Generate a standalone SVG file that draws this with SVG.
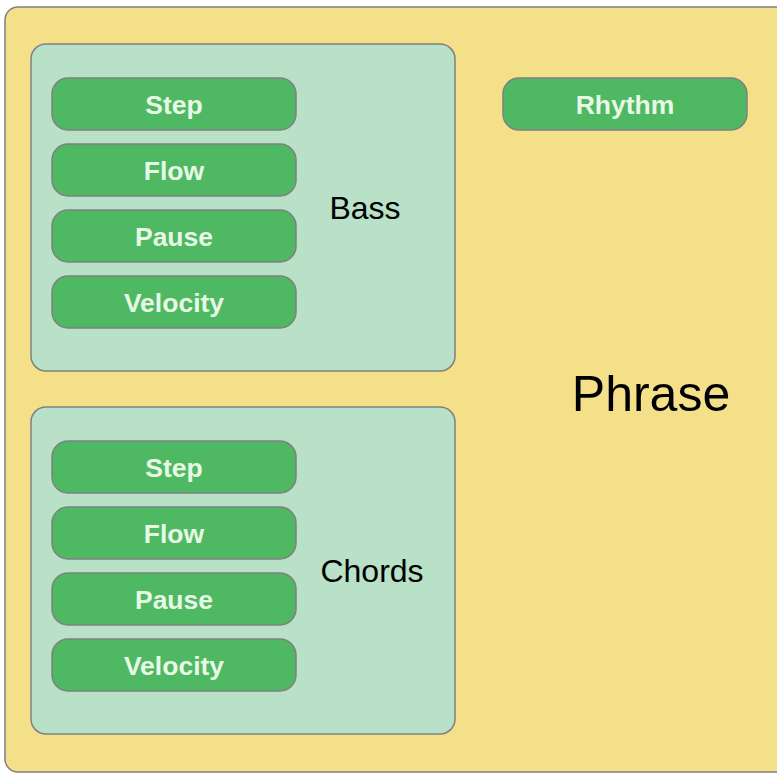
<svg xmlns="http://www.w3.org/2000/svg" width="777" height="774" viewBox="0 0 777 774">
<style>
.outer{fill:#f5e08a;stroke:#808080;stroke-width:1.5}
.grp{fill:#b8e1c8;stroke:#808080;stroke-width:1.5}
.pill{fill:#4eb862;stroke:#808080;stroke-width:1.5}
.pt{font-family:"Liberation Sans",Arial,sans-serif;font-weight:bold;font-size:26.5px;fill:#e8f8e6;text-anchor:middle;dominant-baseline:central}
.lbl{font-family:"Liberation Sans",Arial,sans-serif;font-size:32px;fill:#000;text-anchor:middle;dominant-baseline:central}
</style>
<g id="phrase">
<rect class="outer" x="5" y="7" width="790" height="765" rx="13"/>
<text class="lbl" x="651" y="394" style="font-size:50px">Phrase</text>
</g>
<g id="bass">
<rect class="grp" x="31" y="44" width="424" height="327" rx="15"/>
<text class="lbl" x="365" y="208">Bass</text>
</g>
<g id="chords">
<rect class="grp" x="31" y="407" width="424" height="327" rx="15"/>
<text class="lbl" x="372" y="571">Chords</text>
</g>
<g id="bass-step"><rect class="pill" x="52" y="78" width="244" height="52" rx="16"/><text class="pt" x="174" y="105">Step</text></g>
<g id="bass-flow"><rect class="pill" x="52" y="144" width="244" height="52" rx="16"/><text class="pt" x="174" y="171">Flow</text></g>
<g id="bass-pause"><rect class="pill" x="52" y="210" width="244" height="52" rx="16"/><text class="pt" x="174" y="237">Pause</text></g>
<g id="bass-velocity"><rect class="pill" x="52" y="276" width="244" height="52" rx="16"/><text class="pt" x="174" y="303">Velocity</text></g>
<g id="chords-step"><rect class="pill" x="52" y="441" width="244" height="52" rx="16"/><text class="pt" x="174" y="468">Step</text></g>
<g id="chords-flow"><rect class="pill" x="52" y="507" width="244" height="52" rx="16"/><text class="pt" x="174" y="534">Flow</text></g>
<g id="chords-pause"><rect class="pill" x="52" y="573" width="244" height="52" rx="16"/><text class="pt" x="174" y="600">Pause</text></g>
<g id="chords-velocity"><rect class="pill" x="52" y="639" width="244" height="52" rx="16"/><text class="pt" x="174" y="666">Velocity</text></g>
<g id="rhythm"><rect class="pill" x="503" y="78" width="244" height="52" rx="16"/><text class="pt" x="625" y="105">Rhythm</text></g>
<g id="connectors"/>
</svg>
